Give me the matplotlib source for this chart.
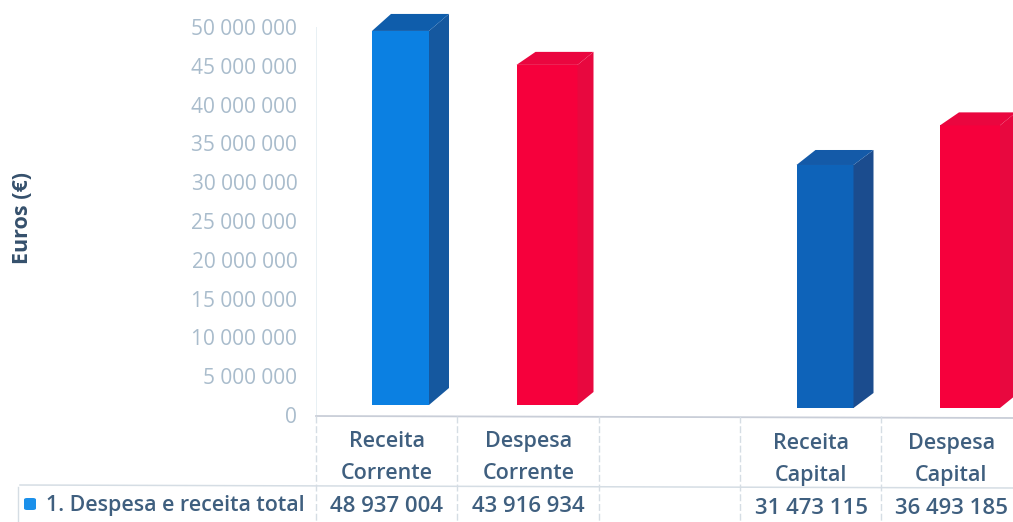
import matplotlib
matplotlib.use("Agg")
import matplotlib.pyplot as plt
from matplotlib.patches import Polygon, FancyBboxPatch
from matplotlib.transforms import blended_transform_factory

categories = ["Receita\nCorrente", "Despesa\nCorrente", "", "Receita\nCapital", "Despesa\nCapital"]
values = [48937004, 43916934, None, 31473115, 36493185]
value_labels = ["48 937 004", "43 916 934", "", "31 473 115", "36 493 185"]
legend_label = "1. Despesa e receita total"
y_label = "Euros (€)"
y_ticks = list(range(0, 50000001, 5000000))
y_tick_labels = ["0", "5 000 000", "10 000 000", "15 000 000", "20 000 000", "25 000 000",
                 "30 000 000", "35 000 000", "40 000 000", "45 000 000", "50 000 000"]

W, H = 1013, 522
FONT = "Open Sans"
TXT = "#3f5f7f"
fig = plt.figure(figsize=(W / 100, H / 100), dpi=100)
ax = fig.add_axes([316 / W, 1 - 415 / H, (W - 316) / W, (415 - 27) / H])
ax.set_xlim(0, (W - 316) / 141.5)
ax.set_ylim(0, 50000000)
for s in ax.spines.values():
    s.set_visible(False)
ax.set_xticks([])
ax.set_yticks(y_ticks)
ax.set_yticklabels(y_tick_labels, fontsize=15, color="#a9bccc", family=FONT)
ax.tick_params(axis="y", length=0, pad=13.5)
ax.axvline(0, color="#e4edf2", lw=1.2)

px = 1 / 141.5
pv = 50000000 / 388
styles = [("#0b80e2", "#15589f", "#0f5dab"), ("#f6003c", "#e8083f", "#ea063f"), None,
          ("#0e63b9", "#1b4c8e", "#145aa8"), ("#f6003c", "#e8083f", "#ea063f")]
lefts = [56, 59, 0, 56, 58]
widths = [57, 61, 0, 57, 60]
bases = [10, 10, 0, 7, 7]
dxs = [20, 16, 0, 20, 16]
dys = [17, 13, 0, 15, 13]
scales = [0.985, 0.998, 0, 0.995, 0.998]

for i, v in enumerate(values):
    if v is None:
        continue
    front, side, top = styles[i]
    x0 = i + lefts[i] * px
    x1 = x0 + widths[i] * px
    b = bases[i] * pv
    t = b + v * scales[i]
    ddx, ddy = dxs[i] * px, dys[i] * pv
    tl = 19 * px
    ax.add_patch(Polygon([(x0, b), (x1, b), (x1, t), (x0, t)], fc=front, ec="none", clip_on=False))
    ax.add_patch(Polygon([(x1, b), (x1 + ddx, b + ddy), (x1 + ddx, t + ddy), (x1, t)], fc=side, ec="none", clip_on=False))
    ax.add_patch(Polygon([(x0, t), (x1, t), (x1 + ddx, t + ddy), (x0 + tl, t + ddy)], fc=top, ec="none", clip_on=False))

# table drawn in figure pixels (y from the top of the picture)
fx = lambda p: p / W
fy = lambda p: 1 - p / H
LINE = "#d5dde4"
def hline(x0, x1, y0, y1, c=LINE, lw=1.1):
    fig.add_artist(plt.Line2D([fx(x0), fx(x1)], [fy(y0), fy(y1)], color=c, lw=lw))
hline(316, W, 416, 418, "#c9ced8", 1.3)
hline(20, W, 485, 488)
for xp in [316, 457, 599, 740, 881]:
    fig.add_artist(plt.Line2D([fx(xp), fx(xp)], [fy(416), fy(522)], color=LINE, lw=1.0, ls=(0, (5, 2))))
fig.add_artist(plt.Line2D([fx(18), fx(18)], [fy(487), fy(522)], color=LINE, lw=1.0))

trans = blended_transform_factory(ax.transData, fig.transFigure)
offs = [0, 0, 0, 2, 2]
nudges = [0, 0, 0, 0, -1.5]
for i, (c, lab) in enumerate(zip(categories, value_labels)):
    if not c:
        continue
    xc = i + 0.5 + nudges[i] * px
    l1, l2 = c.split("\n")
    for yp, s, fs in [(441.5, l1, 15.5), (473.5, l2, 15.5), (506, lab, 16)]:
        ax.text(xc, fy(yp + offs[i]), s, transform=trans, ha="center", va="center", fontsize=fs,
                color=TXT, family=FONT, weight="semibold", clip_on=False)

fig.text(fx(46), fy(505), legend_label, ha="left", va="center", fontsize=15.4, color=TXT, family=FONT, weight="semibold")
fig.add_artist(FancyBboxPatch((fx(24), fy(510)), 12 / W, 12 / H, boxstyle="round,pad=0,rounding_size=0.003",
                              transform=fig.transFigure, fc="#1b90ea", ec="none"))
fig.text(fx(23), fy(218), y_label, rotation=90, ha="center", va="center", fontsize=15.5, color="#35506c", family=FONT, weight="bold")
fig.savefig("out.png", dpi=100)
